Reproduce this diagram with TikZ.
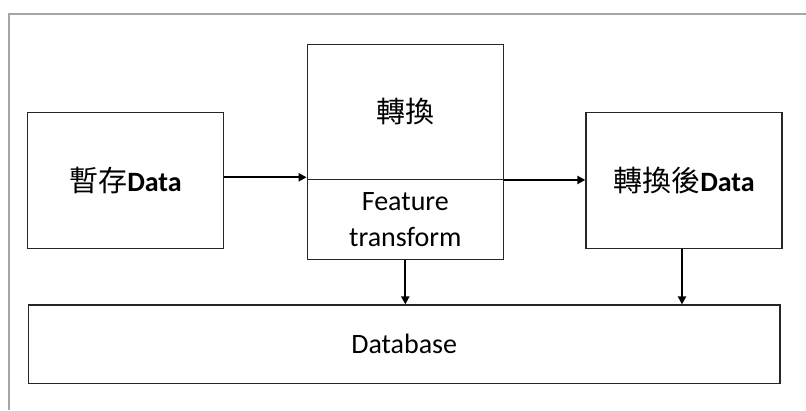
\documentclass[tikz,border=0pt]{standalone}
\usepackage{fontspec}
\setmainfont{Carlito}
\newfontfamily\cjk{Noto Sans CJK TC}
\usetikzlibrary{arrows.meta}
\begin{document}
\begin{tikzpicture}[x=1pt,y=-1pt,
  box/.style={draw=black!85, line width=1.3pt, inner sep=0pt, align=center,
              font=\fontsize{28}{36}\selectfont},
  arr/.style={draw=black, line width=2pt, -{Triangle[length=8pt,width=8pt]}},
  frame/.style={draw=black!35, line width=2pt}]
\useasboundingbox (0,0) rectangle (806,410);
\draw[frame] (9,410) -- (9,14) -- (806,14);
\node[box, minimum width=195.6pt, minimum height=136pt] (A) at (125.5,180.3)
  {{\cjk\fontsize{29}{36}\selectfont 暫存}\textbf{Data}};
\node[box, minimum width=196pt, minimum height=135pt] (tr) at (405.3,111.8)
  {{\cjk\fontsize{29}{36}\selectfont 轉換}};
\node[box, minimum width=196pt, minimum height=80pt] (ft) at (405.3,219.3)
  {Feature\\transform};
\node[box, minimum width=196pt, minimum height=136pt] (C) at (684,180.3)
  {{\cjk\fontsize{29}{36}\selectfont 轉換後}\textbf{Data}};
\node[box, minimum width=751.7pt, minimum height=78.3pt] (DB) at (404.2,344.2)
  {Database};
\draw[arr] ([yshift=3pt]A.east) -- ([yshift=3pt]A.east -| tr.west);
\draw[arr] (tr.south east) -- (tr.south east -| C.west);
\draw[arr] (ft.south) -- (ft.south |- DB.north);
\draw[arr] ([xshift=-2pt]C.south) -- ([xshift=-2pt]C.south |- DB.north);
\end{tikzpicture}
\end{document}
